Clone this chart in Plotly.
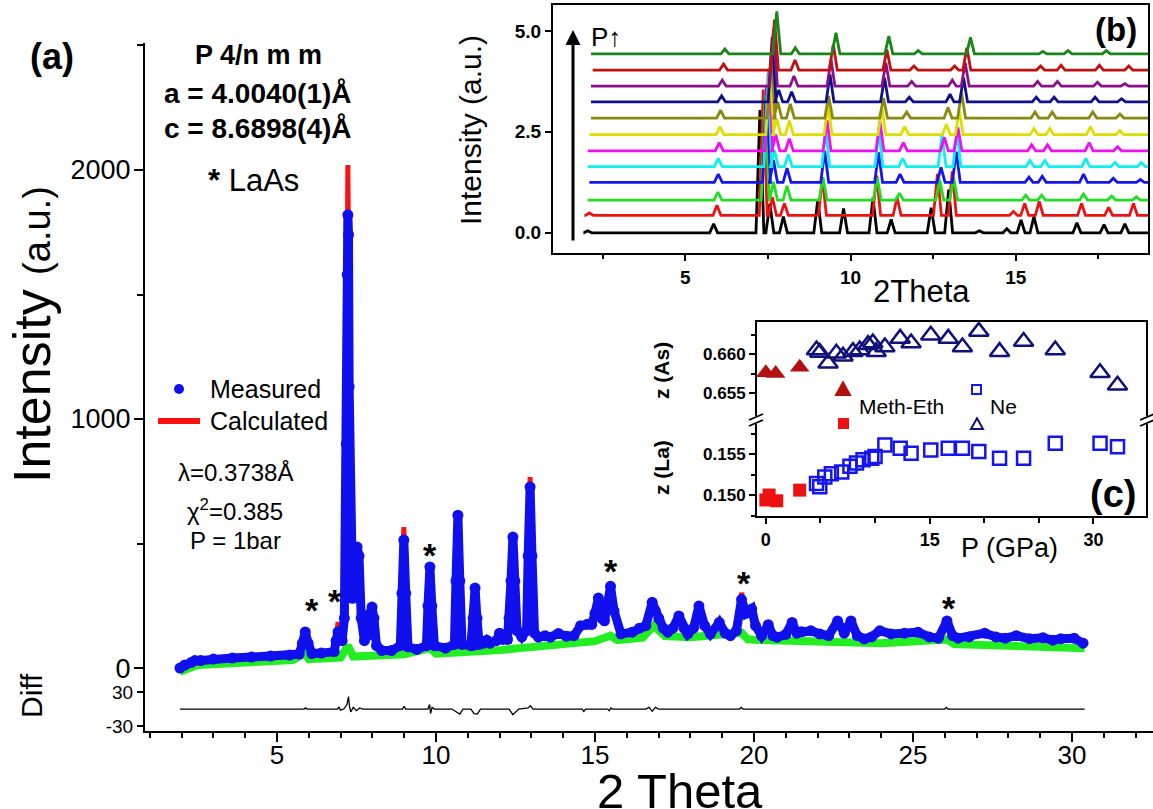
import plotly.graph_objects as go

# ======================= DATA =======================
# (a) main refinement pattern: measured profile (2Theta, intensity)
meas_x = [1.95, 2.1, 2.3, 2.42, 2.6, 3.0, 3.6, 4.2, 4.8, 5.4, 5.7, 5.8, 5.89, 5.98, 6.1, 6.4, 6.8, 6.86,
          6.92, 6.98, 7.05, 7.12, 7.18, 7.21, 7.23, 7.25, 7.27, 7.3, 7.33, 7.38, 7.46, 7.52, 7.58, 7.65,
          7.75, 7.85, 7.93, 7.99, 8.05, 8.13, 8.3, 8.6, 8.88, 8.93, 8.99, 9.05, 9.12, 9.4, 9.7, 9.75,
          9.81, 9.87, 9.95, 10.3, 10.58, 10.63, 10.69, 10.75, 10.82, 11.1, 11.17, 11.23, 11.29, 11.36,
          11.5, 11.6, 11.7, 11.9, 12.0, 12.1, 12.25, 12.3, 12.36, 12.42, 12.48, 12.55, 12.7, 12.85,
          12.9, 12.96, 13.02, 13.1, 13.22, 13.43, 13.6, 13.85, 14.1, 14.34, 14.55, 14.76, 14.9, 15.0,
          15.11, 15.22, 15.3, 15.4, 15.49, 15.6, 15.82, 16.17, 16.4, 16.6, 16.8, 16.9, 17.01, 17.15,
          17.29, 17.45, 17.64, 17.8, 17.92, 18.1, 18.27, 18.45, 18.63, 18.91, 19.1, 19.26, 19.45,
          19.61, 19.75, 19.93, 20.05, 20.24, 20.45, 20.6, 20.73, 21.0, 21.2, 21.35, 21.5, 21.79,
          22.07, 22.35, 22.63, 22.84, 23.05, 23.25, 23.47, 23.7, 23.96, 24.31, 24.73, 25.16, 25.51,
          25.8, 26.07, 26.25, 26.42, 26.77, 27.26, 27.61, 27.9, 28.25, 28.67, 29.09, 29.4, 29.65,
          30.07, 30.35]
meas_y = [0, 12, 22, 30, 30, 36, 40, 44, 48, 52, 56, 100, 145, 100, 58, 60, 66, 110,
          145, 120, 110, 200, 900, 1580, 1820, 1740, 1130, 550, 300, 280, 400, 486, 450, 200,
          110, 130, 220, 245, 200, 90, 70, 70, 90, 300, 514, 300, 85, 75, 90, 250,
          406, 250, 90, 80, 95, 350, 614, 350, 95, 90, 200, 321, 200, 95,
          100, 112, 100, 110, 140, 115, 115, 200, 350, 526, 350, 150, 125, 150,
          450, 727, 450, 140, 124, 130, 124, 139, 128, 130, 170, 176, 175, 220,
          281, 200, 190, 260, 328, 230, 137, 144, 160, 170, 264, 230, 199, 160,
          144, 160, 209, 160, 137, 160, 249, 170, 137, 183, 140, 130, 150,
          275, 220, 237, 170, 130, 174, 130, 124, 135, 183, 140, 146, 150,
          137, 130, 189, 140, 189, 130, 117, 125, 150, 137, 140, 144, 125,
          120, 189, 130, 120, 125, 140, 125, 120, 130, 118, 122, 112, 118,
          120, 100]
# calculated peak tops that differ from the measured points
calc_peak_x = [6.92, 7.23, 8.99, 9.81, 10.69, 12.42, 12.96, 15.49, 16.8, 19.61]
calc_peak_y = [185, 2020, 566, 421, 625, 535, 767, 341, 277, 302]
# background
bg_x = [1.95, 2.5, 4.0, 5.5, 5.89, 6.0, 7.0, 7.23, 7.4, 9.0, 9.81, 10.0, 12.0, 13.0, 15.0, 15.49,
        15.7, 16.5, 16.85, 17.2, 18.0, 19.61, 19.8, 20.0, 22.0, 24.0, 26.07, 26.3, 28.0, 30.4]
bg_y = [-15, 12, 22, 32, 60, 36, 42, 90, 46, 55, 80, 58, 72, 85, 108, 130,
        112, 122, 170, 128, 124, 142, 116, 114, 108, 100, 115, 96, 90, 80]
# difference curve
diff_x = [1.95, 5.85, 5.9, 5.95, 6.9, 6.95, 7.0, 7.1, 7.2, 7.25, 7.28, 7.32, 7.4, 7.5, 7.6, 7.7,
          8.95, 9.0, 9.05, 9.75, 9.8, 9.83, 9.88, 9.95, 10.5, 10.65, 10.75, 10.85, 11.1, 11.2,
          11.3, 11.4, 12.3, 12.42, 12.55, 12.6, 12.9, 12.97, 13.05, 14.6, 14.65, 14.7, 15.4,
          15.45, 15.5, 15.55, 16.6, 16.7, 16.8, 16.9, 17.0, 19.55, 19.6, 19.65, 26.0, 26.05,
          26.1, 30.4]
diff_y = [0, 0, 2, 0, 0, 3, -2, 0, 8, 22, 5, -5, 3, -3, 2, 0,
          0, 5, 0, 0, 8, -8, 3, 0, 0, -6, -9, 0, 0, -8,
          -9, 0, 0, -10, -2, 0, 2, 6, 0, 0, -4, 0, 0,
          -3, 2, 0, 0, 3, -4, 3, 0, 0, 3, 0, 0, 3,
          0, 0]
# LaAs impurity reflections (asterisks)
laas_x = [6.09, 6.82, 9.81, 15.49, 19.68, 26.14]
laas_y = [266, 301, 487, 422, 373, 275]

# (b) pressure series, stacked patterns
b_colors = ["#000000", "#ee1111", "#22dd22", "#1515ee", "#11eeee", "#ee11ee",
            "#dddd00", "#8a8a10", "#10108a", "#8a108a", "#c01010", "#1a861a"]
b_offset = [0.0, 0.43, 0.81, 1.25, 1.64, 2.03, 2.43, 2.84, 3.24, 3.63, 4.03, 4.43]
b_start = [1.92, 1.95, 2.05, 2.1, 2.05, 2.05, 2.1, 2.15, 2.15, 2.15, 2.2, 2.15]
b_end = 19.0
b_peak_x = [
    [2.05, 5.86, 7.26, 7.56, 7.97, 9.01, 9.79, 10.68, 11.23, 12.44, 12.97, 13.9, 14.73, 15.16, 15.55, 16.85, 17.67, 18.3],
    [2.1, 5.96, 7.36, 7.64, 8.0, 9.15, 10.79, 11.41, 12.63, 13.08, 14.93, 15.27, 15.71, 16.99, 17.81, 18.56],
    [5.99, 7.42, 7.67, 8.08, 9.17, 10.81, 11.48, 12.7, 13.12, 15.3, 15.78, 17.05, 17.9, 18.65],
    [6.0, 7.46, 7.67, 8.08, 9.22, 10.85, 11.5, 12.74, 13.2, 15.4, 15.8, 17.05, 17.95, 18.77],
    [6.0, 7.5, 7.7, 8.12, 9.25, 10.86, 11.58, 12.77, 13.22, 15.43, 15.88, 17.12, 18.0, 18.8],
    [6.03, 7.53, 7.74, 8.15, 9.29, 10.89, 11.6, 12.84, 13.25, 15.48, 15.96, 17.22, 18.08],
    [6.05, 7.56, 7.77, 8.15, 9.32, 10.95, 11.64, 12.9, 13.29, 15.55, 16.03, 17.26, 18.15],
    [6.07, 7.6, 7.8, 8.18, 9.34, 11.0, 11.7, 12.95, 13.36, 15.58, 16.1, 17.33, 18.15],
    [6.1, 7.63, 7.83, 8.22, 9.38, 11.03, 11.78, 13.01, 13.42, 15.62, 16.16, 17.4, 18.2],
    [6.12, 7.67, 8.29, 9.41, 11.07, 11.85, 13.08, 13.47, 15.66, 16.26, 17.47, 18.3],
    [6.16, 7.7, 8.32, 9.48, 11.1, 11.92, 13.15, 13.52, 15.75, 16.37, 17.53, 18.42],
    [6.2, 7.77, 8.33, 9.56, 11.16, 12.05, 13.63, 15.82, 16.58, 17.74],
]
b_peak_h = [
    [0.05, 0.22, 3.04, 0.72, 0.4, 0.82, 0.6, 0.87, 0.33, 0.62, 1.07, 0.05, 0.1, 0.32, 0.4, 0.25, 0.2, 0.22],
    [0.06, 0.25, 3.12, 0.45, 0.3, 0.95, 0.99, 0.45, 1.03, 1.09, 0.1, 0.3, 0.35, 0.3, 0.2, 0.3],
    [0.2, 2.6, 0.45, 0.35, 0.55, 0.55, 0.17, 0.5, 0.55, 0.12, 0.12, 0.15, 0.1, 0.08],
    [0.2, 2.4, 0.55, 0.35, 0.78, 0.74, 0.2, 0.37, 0.76, 0.13, 0.15, 0.2, 0.1, 0.07],
    [0.2, 2.3, 0.4, 0.3, 0.92, 0.88, 0.2, 0.8, 0.88, 0.15, 0.15, 0.2, 0.1, 0.1],
    [0.2, 2.0, 0.4, 0.3, 0.76, 0.74, 0.2, 0.33, 0.58, 0.15, 0.15, 0.2, 0.1],
    [0.2, 1.75, 0.4, 0.35, 0.76, 0.67, 0.2, 0.26, 0.6, 0.15, 0.15, 0.2, 0.1],
    [0.2, 1.6, 0.4, 0.35, 0.55, 0.5, 0.15, 0.26, 0.63, 0.15, 0.15, 0.15, 0.1],
    [0.15, 1.6, 0.3, 0.25, 0.68, 0.6, 0.12, 0.19, 0.6, 0.12, 0.12, 0.12, 0.08],
    [0.15, 1.4, 0.25, 0.66, 0.58, 0.12, 0.15, 0.58, 0.12, 0.12, 0.1, 0.06],
    [0.15, 1.25, 0.25, 0.63, 0.51, 0.1, 0.1, 0.55, 0.1, 0.12, 0.12, 0.1],
    [0.12, 1.05, 0.15, 0.52, 0.44, 0.08, 0.41, 0.06, 0.08, 0.08],
]

# (c) atomic z positions vs pressure
me_as_p = [0.0, 0.9, 3.1]
me_as_z = [0.6576, 0.6575, 0.6583]
me_la_p = [0.0, 0.3, 1.0, 3.1]
me_la_z = [0.1494, 0.1500, 0.1493, 0.1506]
ne_as_p = [4.64, 4.94, 5.7, 6.46, 7.07, 7.98, 8.6, 9.36, 9.8, 10.1, 10.9, 12.3, 13.3, 15.1, 16.7,
           18.0, 19.5, 21.4, 23.6, 26.5, 30.6, 32.2]
ne_as_z = [0.6605, 0.6602, 0.6588, 0.6601, 0.6597, 0.6603, 0.6605, 0.6612, 0.6614, 0.6603, 0.6609,
           0.6620, 0.6614, 0.6624, 0.6620, 0.6609, 0.6629, 0.6603, 0.6616, 0.6605, 0.6576, 0.6560]
ne_la_p = [4.64, 4.94, 5.4, 6.0, 6.95, 7.7, 8.3, 8.9, 9.7, 10.0, 10.9, 12.3, 13.3, 15.1, 16.7,
           18.0, 19.5, 21.4, 23.6, 26.5, 30.6, 32.2]
ne_la_z = [0.1514, 0.1510, 0.1522, 0.1526, 0.1528, 0.1535, 0.1539, 0.1543, 0.1545, 0.1547, 0.1561,
           0.1557, 0.1551, 0.1555, 0.1557, 0.1557, 0.1553, 0.1545, 0.1545, 0.1563, 0.1563, 0.1559]

# ======================= FIGURE =======================
W, H = 1153, 809
ML, MR, MT, MB = 145, 0, 5, 78
PW, PH = W - ML - MR, H - MT - MB


def X(px):
    return (px - ML) / PW


def Y(py):
    return (H - MB - py) / PH


FONT = "Liberation Sans, Arial, Helvetica, sans-serif"
fig = go.Figure()

calc_top = dict(zip(calc_peak_x, calc_peak_y))
calc_y = [calc_top.get(xv, yv) for xv, yv in zip(meas_x, meas_y)]

fig.add_trace(go.Scatter(x=bg_x, y=bg_y, mode="lines", line=dict(color="#22ee22", width=8),
                         xaxis="x", yaxis="y", hoverinfo="skip"))
fig.add_trace(go.Scatter(x=meas_x, y=calc_y, mode="lines", line=dict(color="#ff1010", width=5),
                         xaxis="x", yaxis="y"))
fig.add_trace(go.Scatter(x=meas_x, y=meas_y, mode="lines+markers",
                         line=dict(color="#1010ee", width=9),
                         marker=dict(color="#1010ee", size=11), xaxis="x", yaxis="y"))
fig.add_trace(go.Scatter(x=diff_x, y=diff_y, mode="lines", line=dict(color="black", width=1.3),
                         xaxis="x", yaxis="y2"))

# (b) stacked patterns
HW = 0.12
for i in range(len(b_offset)):
    xs, ys = [b_start[i]], [b_offset[i]]
    for p, h in zip(b_peak_x[i], b_peak_h[i]):
        xs += [p - HW, p, p + HW]
        ys += [b_offset[i], b_offset[i] + h, b_offset[i]]
    xs.append(b_end)
    ys.append(b_offset[i])
    fig.add_trace(go.Scatter(x=xs, y=ys, mode="lines", line=dict(color=b_colors[i], width=2.8),
                             xaxis="x3", yaxis="y3"))

# (c) z positions
fig.add_trace(go.Scatter(x=me_as_p, y=me_as_z, mode="markers", xaxis="x4", yaxis="y5",
                         marker=dict(symbol="triangle-up", size=17, color="#b31010")))
fig.add_trace(go.Scatter(x=me_la_p, y=me_la_z, mode="markers", xaxis="x4", yaxis="y4",
                         marker=dict(symbol="square", size=13, color="#ee1111")))
fig.add_trace(go.Scatter(x=ne_as_p, y=ne_as_z, mode="markers", xaxis="x4", yaxis="y5",
                         marker=dict(symbol="triangle-up-open", size=17, color="#10107a",
                                     line=dict(width=2.5, color="#10107a"))))
fig.add_trace(go.Scatter(x=ne_la_p, y=ne_la_z, mode="markers", xaxis="x4", yaxis="y4",
                         marker=dict(symbol="square-open", size=13, color="#1515ee",
                                     line=dict(width=2.5, color="#1515ee"))))

axis_common = dict(showgrid=False, zeroline=False, linecolor="black", tickcolor="black",
                   ticks="outside")
fig.update_layout(
    width=W, height=H, margin=dict(l=ML, r=MR, t=MT, b=MB),
    paper_bgcolor="white", plot_bgcolor="rgba(0,0,0,0)", showlegend=False,
    font=dict(family=FONT, color="black"),
    xaxis=dict(axis_common, domain=[0, 1], range=[0.85, 32.55], anchor="y2", showline=True,
               linewidth=2, tickmode="linear", tick0=0, dtick=5, ticklen=9, tickwidth=2,
               minor=dict(dtick=1, tick0=0, ticklen=5, tickwidth=1.5, ticks="outside",
                          tickcolor="black"),
               ticklabelstandoff=-9, tickfont=dict(size=26)),
    xaxis2=dict(showgrid=False, zeroline=False, overlaying="x", anchor="y2", side="top",
                range=[0.85, 32.55], showline=True, linewidth=2, linecolor="black",
                ticks="inside", tickcolor="black", tickmode="linear", tick0=0, dtick=5,
                ticklen=10, tickwidth=2, showticklabels=False,
                minor=dict(dtick=1, tick0=0, ticklen=6, tickwidth=1.5, ticks="inside",
                           tickcolor="black")),
    yaxis=dict(axis_common, domain=[Y(682), Y(43)], range=[-56, 2510], anchor="x",
               showline=True, linewidth=2, tickmode="linear", tick0=0, dtick=1000, ticklen=9,
               tickwidth=2, minor=dict(dtick=500, ticklen=6, tickwidth=1.5, ticks="outside",
                                       tickcolor="black"),
               ticklabelstandoff=-2, tickfont=dict(size=27)),
    yaxis2=dict(axis_common, domain=[0, Y(682)], range=[-39, 48], anchor="x", showline=True,
                linewidth=2, tickvals=[-30, 30], ticktext=["-30", "30"], ticklen=6,
                tickwidth=2, tickfont=dict(size=19)),
    xaxis3=dict(axis_common, domain=[X(553), X(1148)], range=[1, 19], anchor="y3",
                showline=True, mirror=True, linewidth=2, tickvals=[5, 10, 15], ticklen=6,
                tickwidth=2, minor=dict(tickvals=[2.5, 7.5, 12.5, 17.5], ticklen=4,
                                        ticks="outside", tickcolor="black"),
                tickfont=dict(size=19, weight="bold")),
    yaxis3=dict(axis_common, domain=[Y(253), Y(5)], range=[-0.5, 5.64], anchor="x3",
                showline=True, mirror=True, linewidth=2, tickvals=[0, 2.5, 5.0],
                ticktext=["0.0", "2.5", "5.0"], ticklen=6, tickwidth=2,
                tickfont=dict(size=19, weight="bold")),
    xaxis4=dict(axis_common, domain=[X(756), X(1147)], range=[-0.9, 34.9], anchor="y4",
                showline=False, tickvals=[0, 15, 30], ticklen=6, tickwidth=2,
                minor=dict(tickvals=[5, 10, 20, 25], ticklen=5, ticks="outside",
                           tickcolor="black", tickwidth=1.5),
                tickfont=dict(size=18, weight="bold")),
    yaxis4=dict(axis_common, domain=[Y(517), Y(420)], range=[0.14732, 0.15915], anchor="x4",
                showline=False, tickvals=[0.150, 0.155], ticktext=["0.150", "0.155"],
                ticklen=6, tickwidth=2,
                minor=dict(tickvals=[0.1475, 0.1525, 0.1575], ticklen=4, ticks="outside",
                           tickcolor="black"),
                tickfont=dict(size=17, weight="bold")),
    yaxis5=dict(axis_common, domain=[Y(420), Y(321)], range=[0.65154, 0.66423], anchor="x4",
                showline=False, tickvals=[0.655, 0.660], ticktext=["0.655", "0.660"],
                ticklen=6, tickwidth=2,
                minor=dict(tickvals=[0.6575, 0.6625], ticklen=4, ticks="outside",
                           tickcolor="black"),
                tickfont=dict(size=17, weight="bold")),
)

shapes = []
# frame of inset (c)
shapes.append(dict(type="rect", xref="paper", yref="paper", x0=X(756), x1=X(1147), y0=Y(517),
                   y1=Y(321), line=dict(color="black", width=2)))
# axis breaks
for bx in (756, 1147):
    shapes.append(dict(type="rect", xref="paper", yref="paper", x0=X(bx - 3), x1=X(bx + 3),
                       y0=Y(424), y1=Y(416), line=dict(width=0), fillcolor="white"))
    for dy in (-3, 3):
        shapes.append(dict(type="line", xref="paper", yref="paper", x0=X(bx - 7), x1=X(bx + 7),
                           y0=Y(420 + dy + 3), y1=Y(420 + dy - 3),
                           line=dict(color="black", width=1.8)))
# main legend symbols
shapes.append(dict(type="circle", xref="paper", yref="paper", x0=X(174), x1=X(184), y0=Y(394),
                   y1=Y(384), fillcolor="#1010ee", line=dict(width=0)))
shapes.append(dict(type="line", xref="paper", yref="paper", x0=X(158), x1=X(200), y0=Y(421),
                   y1=Y(421), line=dict(color="#ff1010", width=6)))


# inset (c) legend symbols
def tri(cx, cy, s, fill, col):
    return dict(type="path", xref="paper", yref="paper",
                path=f"M {X(cx - s)},{Y(cy + s * 0.85)} L {X(cx + s)},{Y(cy + s * 0.85)} "
                     f"L {X(cx)},{Y(cy - s * 0.95)} Z",
                fillcolor=fill, line=dict(color=col, width=2))


shapes.append(tri(843, 389, 7, "#b31010", "#b31010"))
shapes.append(dict(type="rect", xref="paper", yref="paper", x0=X(838), x1=X(849), y0=Y(429),
                   y1=Y(418), fillcolor="#ee1111", line=dict(width=0)))
shapes.append(dict(type="rect", xref="paper", yref="paper", x0=X(972), x1=X(981), y0=Y(394),
                   y1=Y(385), fillcolor="rgba(0,0,0,0)", line=dict(color="#1515ee", width=2)))
shapes.append(tri(977, 424, 6, "rgba(0,0,0,0)", "#10107a"))
fig.update_layout(shapes=shapes)

ann = []


def txt(s, px, py, size, bold=False, angle=0, xanchor="center", color="black", fam=FONT):
    ann.append(dict(text=s, xref="paper", yref="paper", x=X(px), y=Y(py), showarrow=False,
                    textangle=angle, xanchor=xanchor, yanchor="middle",
                    font=dict(size=size, color=color, family=fam,
                              weight="bold" if bold else "normal")))


txt("(a)", 52, 57, 36, bold=True)
txt("P 4/n m m", 258, 55, 27, bold=True)
txt("a = 4.0040(1)Å", 258, 94, 28, bold=True)
txt("c = 8.6898(4)Å", 258, 129, 28, bold=True)
txt("<b>*</b> LaAs", 253, 180, 31)
txt("Measured", 208, 389, 25, xanchor="left")
txt("Calculated", 208, 421, 25, xanchor="left")
txt("λ=0.3738Å", 235, 472, 24)
txt("χ<sup>2</sup>=0.385", 235, 510, 24)
txt("P = 1bar", 235, 540, 24)
txt("Intensity <span style='font-size:38px'>(a.u.)</span>", 32, 335, 52, angle=-90)
txt("Diff", 31, 696, 30, angle=-90)
txt("2 Theta", 680, 791, 49)
# inset (b)
txt("Intensity (a.u.)", 470, 130, 30, angle=-90)
txt("2Theta", 921, 291, 31)
txt("(b)", 1116, 30, 33, bold=True)
txt("P↑", 606, 37, 26)
ann.append(dict(xref="paper", yref="paper", x=X(573), y=Y(30), ax=0, ay=212,
                axref="pixel", ayref="pixel", showarrow=True, arrowhead=2, arrowsize=1,
                arrowwidth=3, arrowcolor="black", text=""))
# inset (c)
txt("z (La)", 661, 468, 21, bold=True, angle=-90)
txt("z (As)", 661, 371, 21, bold=True, angle=-90)
txt("Meth-Eth", 857, 407, 21, xanchor="left")
txt("Ne", 988, 407, 21, xanchor="left")
txt("P (GPa)", 1009, 548, 27)
txt("(c)", 1113, 494, 38, bold=True)
# LaAs asterisks on the main pattern
for lx, ly in zip(laas_x, laas_y):
    ann.append(dict(text="*", x=lx, y=ly, xref="x", yref="y", showarrow=False, yshift=-8,
                    font=dict(size=34, family=FONT, weight="bold", color="black")))
fig.update_layout(annotations=ann)

fig.write_html("out.html", config={"displayModeBar": False},
               post_script="document.body.style.margin='0px';")
